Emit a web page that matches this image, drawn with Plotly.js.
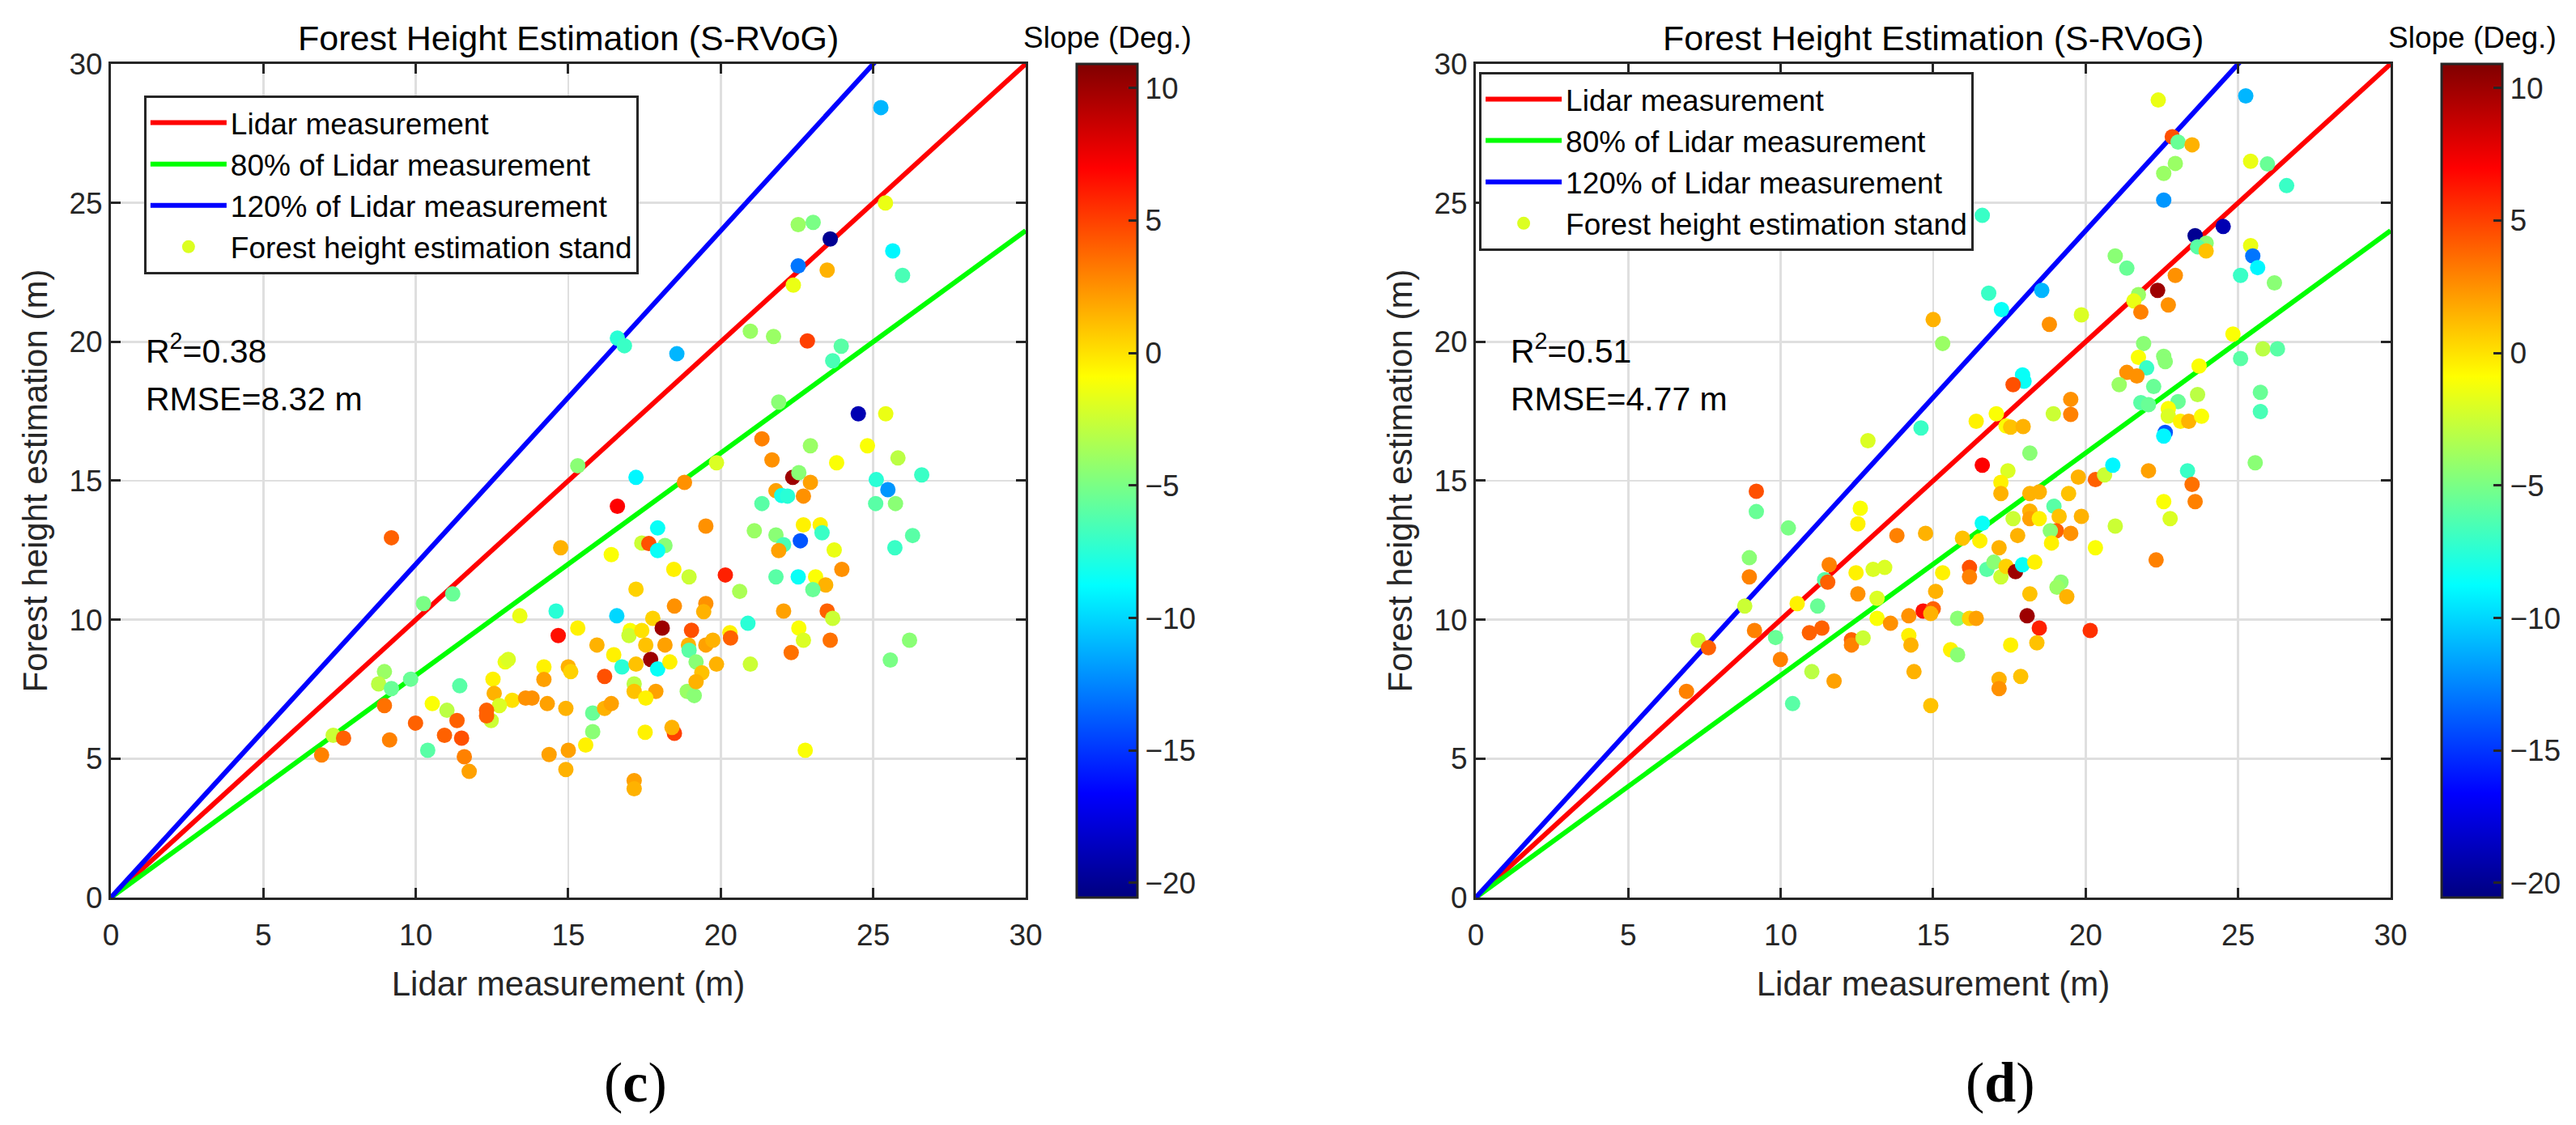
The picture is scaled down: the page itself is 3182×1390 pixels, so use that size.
<!DOCTYPE html>
<html>
<head>
<meta charset="utf-8">
<script src="https://cdn.plot.ly/plotly-3.0.1.min.js"></script>
<style>
  body { margin: 0; background: #fff; }
  #plot { width: 3182px; height: 1390px; }
</style>
</head>
<body>
<div id="plot"></div>
<script>
// panel (c): lidar height, estimated height, terrain slope per stand
var lidarC = [25.25, 25.4, 22.54, 23.03, 23.59, 22.54, 23.49, 22.38, 25.64, 25.96,
  20.97, 21.73, 22.84, 23.95, 23.67, 16.61, 16.84, 18.56, 21.9, 24.51,
  25.41, 21.35, 21.68, 22.94, 24.81, 23.8, 25.81, 19.86, 22.36, 22.56,
  22.94, 25.1, 25.48, 26.59, 17.22, 18.81, 15.31, 21.81, 21.35, 22.0,
  22.19, 22.71, 25.08, 25.73, 16.61, 19.51, 21.1, 21.81, 22.71, 23.26,
  23.32, 26.29, 22.06, 21.9, 22.61, 23.72, 25.71, 17.93, 17.41, 17.64,
  18.17, 17.93, 14.75, 16.41, 9.2, 18.46, 18.96, 20.15, 20.62, 21.81,
  22.54, 23.11, 23.44, 23.02, 23.97, 17.22, 10.25, 11.21, 13.41, 14.6,
  16.59, 18.48, 19.51, 19.44, 22.06, 23.49, 23.67, 20.89, 17.77, 18.08,
  19.04, 20.3, 20.32, 22.56, 22.71, 23.59, 26.19, 14.67, 15.31, 17.03,
  16.99, 17.41, 15.94, 17.54, 18.17, 18.94, 18.96, 19.51, 19.74, 22.31,
  16.49, 17.7, 17.93, 18.33, 16.76, 17.22, 19.19, 19.86, 20.97, 19.38,
  16.19, 15.0, 15.08, 14.2, 14.2, 12.93, 13.03, 12.53, 12.57, 8.97,
  8.78, 9.2, 9.83, 11.44, 17.16, 17.16, 17.87, 17.54, 18.9, 19.13,
  19.19, 13.16, 13.6, 13.81, 14.31, 12.74, 12.47, 12.32, 12.32, 10.54,
  11.02, 11.35, 8.97, 9.99, 14.92, 15.8, 16.19, 16.41, 15.8, 15.57,
  15.0, 14.37, 14.92, 17.52, 18.48, 18.4, 17.16, 17.16, 22.77, 25.56,
  7.29, 7.63, 6.91, 9.14, 10.39, 10.94, 11.5, 11.59, 11.75];
var estC = [28.43, 25.0, 24.22, 24.3, 23.7, 22.73, 22.58, 22.04, 23.27, 22.39,
  20.38, 20.19, 20.03, 19.84, 19.32, 20.13, 19.86, 19.57, 17.83, 17.41,
  17.41, 16.51, 15.75, 16.26, 16.26, 15.65, 15.82, 15.65, 15.12, 15.29,
  14.94, 15.04, 14.68, 15.21, 15.12, 14.94, 15.54, 14.64, 14.18, 14.47,
  14.45, 14.45, 14.18, 14.18, 14.08, 13.37, 13.2, 13.05, 13.41, 13.41,
  13.13, 13.03, 12.7, 12.49, 12.84, 12.51, 12.59, 13.3, 12.76, 12.74,
  12.67, 12.49, 12.59, 12.34, 12.95, 11.81, 11.54, 11.61, 11.02, 11.54,
  11.54, 11.54, 11.25, 11.08, 11.81, 11.1, 10.58, 10.93, 10.14, 10.31,
  10.14, 10.49, 10.58, 10.29, 10.31, 10.31, 10.05, 9.87, 10.05, 9.7,
  9.62, 9.53, 9.34, 9.7, 9.26, 9.26, 9.26, 9.43, 9.7, 9.61,
  9.43, 9.61, 9.09, 9.09, 9.09, 9.09, 8.9, 9.09, 9.26, 8.82,
  8.74, 8.57, 8.23, 8.48, 8.3, 8.4, 8.48, 8.4, 8.4, 8.09,
  7.96, 8.3, 8.13, 8.3, 7.85, 8.48, 8.57, 7.86, 7.35, 8.13,
  7.69, 7.52, 7.86, 7.62, 7.69, 7.42, 7.42, 7.18, 7.42, 7.27,
  7.77, 7.1, 7.18, 7.18, 6.98, 6.91, 6.37, 6.74, 6.54, 6.98,
  6.74, 6.37, 6.91, 6.28, 6.81, 6.64, 6.81, 6.98, 5.97, 5.49,
  5.3, 5.15, 4.61, 5.95, 5.91, 6.12, 4.21, 3.92, 5.3, 8.55,
  5.84, 5.74, 5.13, 5.67, 5.3, 5.84, 5.74, 5.07, 4.54];
var slopeC = [-11, -1.5, -4, -5, -20, -13, 1.5, -1.5, -9, -6.5,
  -4, -4, 5, -6, -6.5, -7.5, -7, -11, -4.5, -19,
  -1.5, 3, 2.5, -4, -1, -1, -3, -2, 10, -4.5,
  2, -7.5, -12, -7, -9, 2.5, -4.5, 2, -6, -8,
  -7.5, 2.5, -6, -4.5, 7, 2.5, -4, -4.5, -0.5, -0.5,
  -7, -6, -6.5, 2, -14, -1.5, -7, -8.5, -2.5, 4.5,
  -4.5, -8.5, 1.5, -1, 4, -0.5, -2.5, 6, -3.5, -6,
  -8.5, -1, 1.5, -5.5, 2.5, 0.5, -5, -5.5, -1.5, -7.5,
  -10, 2.5, 2.5, 1.5, 2, 4, -2.5, -7.5, 0.5, 10,
  4.5, -0.5, 4, -1, -2, 3.5, -4.5, 6.5, -0.5, -1,
  -2.5, 0, 1.5, 1, 2, 1.5, -6, 2, 1.5, 3.5,
  -0.5, 10, -8.5, -0.5, -7.5, 1, -4.5, 1.5, -2.5, 1,
  4.5, 1.5, 0.5, -0.5, 2, -1.5, -2, -0.5, 1.5, -4,
  -3, -5.5, -5.5, -6, -3, 1, 2, -0.5, -4, -4.5,
  1.5, 0, 2.5, 2.5, 2, -2, -2.5, 4, 4, -1,
  -3, 4, 3.5, 4, 1.5, -5.5, 1.5, 2, -4.5, -0.5,
  2, 2, 1.5, -0.5, 5, 1.5, 2, 1.5, -1, -5,
  -2.5, 4, 3, 3, -6, 4, 4.5, 3, 2];

// panel (d)
var lidarD = [22.38, 25.25, 22.84, 23.03, 23.49, 22.94, 22.56, 25.41, 25.96, 26.59,
  22.56, 16.61, 23.59, 24.51, 23.95, 23.67, 23.95, 25.41, 25.48, 25.64,
  25.08, 26.19, 20.97, 21.35, 22.94, 16.82, 17.24, 18.56, 22.36, 21.73,
  21.58, 22.71, 21.81, 19.86, 18.81, 15.0, 15.31, 21.9, 24.83, 25.08,
  25.81, 26.29, 22.56, 22.61, 21.73, 22.0, 21.35, 21.68, 23.72, 21.1,
  22.23, 23.67, 25.73, 25.73, 17.93, 17.98, 17.62, 19.51, 19.51, 18.94,
  21.81, 22.06, 23.03, 22.71, 22.71, 23.11, 23.38, 23.8, 22.61, 22.56,
  16.41, 17.07, 17.39, 17.54, 17.95, 12.86, 14.6, 18.17, 16.61, 17.45,
  17.22, 17.22, 18.17, 18.48, 19.44, 19.76, 20.32, 20.62, 20.89, 22.06,
  23.34, 23.49, 23.59, 22.56, 22.77, 25.56, 9.2, 9.2, 10.25, 12.61,
  12.53, 13.81, 14.75, 15.96, 16.61, 16.53, 17.16, 17.77, 17.62, 18.17,
  18.17, 18.48, 18.96, 19.13, 19.86, 19.04, 18.84, 19.51, 18.88, 20.97,
  20.32, 22.31, 8.97, 8.97, 11.59, 11.44, 11.54, 12.47, 13.03, 13.41,
  12.53, 13.16, 15.31, 15.08, 16.19, 16.19, 16.76, 16.99, 17.22, 17.39,
  17.7, 17.93, 18.33, 19.19, 19.06, 19.38, 18.17, 8.82, 10.54, 11.21,
  13.16, 13.6, 14.2, 14.67, 15.0, 14.92, 15.8, 16.19, 16.41, 18.08,
  18.48, 20.15, 18.4, 17.54, 9.14, 9.83, 10.94, 11.35, 12.32, 12.32,
  12.7, 14.2, 14.27, 15.57, 15.8, 7.29, 7.63, 9.99, 11.02, 11.75,
  14.37, 17.16, 17.16, 17.87, 6.91, 10.39, 14.92];
var estD = [28.7, 28.85, 27.38, 27.19, 27.09, 26.42, 26.06, 26.5, 26.4, 25.62,
  25.1, 24.55, 23.82, 24.15, 23.55, 23.42, 23.27, 23.46, 23.09, 22.67,
  22.39, 22.12, 23.09, 22.65, 22.39, 21.75, 21.16, 21.85, 21.85, 21.7,
  21.47, 21.33, 21.07, 20.97, 20.63, 20.8, 19.94, 19.94, 20.28, 19.4,
  19.75, 19.75, 19.48, 19.29, 19.44, 19.06, 18.9, 18.77, 19.13, 18.46,
  18.39, 18.1, 18.18, 17.49, 18.81, 18.58, 18.46, 17.93, 17.39, 17.41,
  17.81, 17.74, 17.85, 17.6, 17.33, 17.14, 17.14, 17.32, 16.74, 16.61,
  17.14, 17.41, 16.97, 16.93, 16.95, 16.44, 16.9, 16.0, 15.56, 15.36,
  14.94, 14.54, 14.54, 14.6, 14.54, 15.13, 15.04, 15.21, 15.56, 15.36,
  15.36, 14.87, 14.25, 14.25, 13.64, 15.65, 14.62, 13.89, 13.3, 14.01,
  13.45, 13.03, 13.11, 12.93, 13.47, 12.84, 12.59, 13.03, 13.64, 13.91,
  13.64, 13.64, 14.08, 13.72, 13.72, 13.2, 13.2, 13.11, 12.76, 13.37,
  12.59, 12.15, 12.23, 11.54, 11.98, 11.44, 11.35, 11.69, 11.81, 11.88,
  10.93, 10.77, 11.69, 11.02, 11.88, 11.54, 11.81, 12.07, 11.54, 11.92,
  11.73, 11.98, 12.07, 11.35, 11.17, 10.83, 10.93, 10.49, 10.58, 10.49,
  10.05, 9.87, 10.14, 10.31, 10.39, 10.22, 10.05, 10.05, 10.05, 10.14,
  9.7, 9.61, 9.17, 9.09, 9.61, 9.36, 9.53, 9.7, 9.28, 9.09,
  9.34, 9.43, 9.09, 8.92, 8.74, 9.26, 8.99, 8.57, 8.13, 7.79,
  8.13, 7.86, 7.52, 7.96, 7.42, 6.98, 6.91];
var slopeD = [-1.5, -11, 4.5, -5.5, 1.5, -4, -4, -1.5, -5.5, -7,
  -12, -7, -20, -19, -4.5, -6, 1, -1.5, -13, -9,
  -7, -4.5, -4.5, -5.5, 2.5, -7, -8.5, -11, 10, -4,
  -1.5, 2.5, 3, -2, 2.5, 1.5, -4, -4.5, -1, -6,
  -3, -6, -4.5, -4.5, -1, -7, 2.5, 2.5, -1, -4,
  -5.5, -3, -5.5, -6.5, -8.5, -8.5, 4.5, 2.5, 3, -2.5,
  -6, -5.5, -5.5, -1, -2, -0.5, 1.5, -1, -14, -9,
  -0.5, -1, -1, 1, 1.5, -2, -7, -4.5, 7, -2,
  -0.5, 1.5, 1.5, 1.5, 1, 1.5, 4, -2.5, -9, 2,
  -7, 3.5, 3, -1, -2, -4.5, 4.5, -5.5, -5, -1,
  -0.5, 3, 1.5, 1, -8.5, -0.5, 1.5, 1.5, -2.5, 1.5,
  2, -0.5, -6, 1, 1.5, 4, -4.5, 2.5, -0.5, -2.5,
  -1, 3, -4.5, 3, 3, -6, 4, -0.5, -2, -2,
  2.5, -2, -0.5, 1.5, 4.5, 3, -6, -4.5, -2.5, 0.5,
  10, -8.5, -0.5, -4.5, -4, 1.5, 1, -2.5, -0.5, -5.5,
  -1, 2.5, 2.5, 6.5, 4, 1.5, -4.5, 0.5, 2, 10,
  6, 5.5, 1, -0.5, 3, -5.5, 4, 4, 4, 3,
  -2.5, -0.5, 1.5, -0.5, -4.5, -2.5, 4, 3, -3, 2,
  1.5, 1.5, 2.5, 1, 3, -6, 1];

var statsC = ["R<sup>2</sup>=0.38", "RMSE=8.32 m"];
var statsD = ["R<sup>2</sup>=0.51", "RMSE=4.77 m"];

// reference lines: estimation = ratio * lidar
var lineLidar = [0, 30];
var ratios = [1, 0.8, 1.2];
var ratioNames = ["Lidar measurement", "80% of Lidar measurement", "120% of Lidar measurement"];

var slopeTicks = [-20, -15, -10, -5, 0, 5, 10];
var slopeMin = -20.55, slopeMax = 10.91;

var FONT = "Liberation Sans, Arial, Helvetica, sans-serif";
var DARK = "#262626";
var lineColors = ["#ff0000", "#00ff00", "#0000ff"];

// matlab jet
var jet = [
  [0, "rgb(0,0,128)"], [0.125, "rgb(0,0,255)"], [0.375, "rgb(0,255,255)"],
  [0.625, "rgb(255,255,0)"], [0.875, "rgb(255,0,0)"], [1, "rgb(128,0,0)"]
];

function panelTraces(lidar, est, slope, xa, ya, leg, cbX) {
  var out = [];
  ratios.forEach(function (r, i) {
    out.push({
      x: lineLidar,
      y: lineLidar.map(function (v) { return v * r; }),
      type: "scatter", mode: "lines",
      name: ratioNames[i],
      line: { color: lineColors[i], width: 6 },
      xaxis: xa, yaxis: ya, legend: leg
    });
  });
  out.push({
    x: lidar, y: est,
    type: "scatter", mode: "markers",
    showlegend: false,
    marker: {
      color: slope, colorscale: jet, cmin: slopeMin, cmax: slopeMax,
      size: 19, line: { width: 0 },
      showscale: true,
      colorbar: {
        x: cbX, xanchor: "left", xpad: 0,
        y: 0.57266, yanchor: "middle", ypad: 0,
        len: 1030, lenmode: "pixels",
        thickness: 75, thicknessmode: "pixels",
        outlinewidth: 3, outlinecolor: DARK,
        ticks: "inside", ticklen: 12, tickwidth: 3, tickcolor: DARK,
        tickvals: slopeTicks,
        tickfont: { family: FONT, size: 37, color: DARK }
      }
    },
    xaxis: xa, yaxis: ya
  });
  // legend entry for the stands
  out.push({
    x: [null], y: [null],
    type: "scatter", mode: "markers",
    name: "Forest height estimation stand",
    marker: { color: "#dcff21", size: 19 },
    xaxis: xa, yaxis: ya, legend: leg
  });
  return out;
}

var data = panelTraces(lidarC, estC, slopeC, "x", "y", "legend", 0.418)
  .concat(panelTraces(lidarD, estD, slopeD, "x2", "y2", "legend2", 0.9478));

function xAxis(domain, anchor) {
  return {
    domain: domain, anchor: anchor,
    range: [0, 30], dtick: 5, tick0: 0,
    showline: true, mirror: "ticks", linecolor: DARK, linewidth: 3,
    ticks: "inside", ticklen: 12, tickwidth: 3, tickcolor: DARK,
    ticklabelstandoff: 12,
    showgrid: true, gridcolor: "#dfdfdf", gridwidth: 2.5, zeroline: false,
    tickfont: { family: FONT, size: 37, color: DARK },
    title: { text: "Lidar measurement (m)", font: { family: FONT, size: 42, color: DARK }, standoff: 26 }
  };
}
function yAxis(anchor) {
  return {
    domain: [0.20216, 0.94317], anchor: anchor,
    range: [0, 30], dtick: 5, tick0: 0,
    showline: true, mirror: "ticks", linecolor: DARK, linewidth: 3,
    ticks: "inside", ticklen: 12, tickwidth: 3, tickcolor: DARK,
    showgrid: true, gridcolor: "#dfdfdf", gridwidth: 2.5, zeroline: false,
    tickfont: { family: FONT, size: 37, color: DARK },
    title: { text: "Forest height estimation (m)", font: { family: FONT, size: 42, color: DARK }, standoff: 14 }
  };
}

function legendBox(x, y) {
  return {
    x: x, y: y, xanchor: "left", yanchor: "top",
    bgcolor: "#ffffff", bordercolor: DARK, borderwidth: 3,
    font: { family: FONT, size: 37, color: "#000" },
    itemwidth: 94
  };
}

var annotations = [];
[[statsC, "x", "y"], [statsD, "x2", "y2"]].forEach(function (p) {
  annotations.push({ xref: p[1], yref: p[2], x: 1.1, y: 19.75, text: p[0][0], showarrow: false,
    xanchor: "left", yanchor: "middle", font: { family: FONT, size: 41, color: "#000" } });
  annotations.push({ xref: p[1], yref: p[2], x: 1.1, y: 17.94, text: p[0][1], showarrow: false,
    xanchor: "left", yanchor: "middle", font: { family: FONT, size: 41, color: "#000" } });
});
[0.2206, 0.7505].forEach(function (cx) {
  annotations.push({ xref: "paper", yref: "paper", x: cx, y: 0.9665, text: "Forest Height Estimation (S-RVoG)",
    showarrow: false, xanchor: "center", yanchor: "middle", font: { family: FONT, size: 43, color: "#000" } });
});
[0.4299, 0.9598].forEach(function (cx) {
  annotations.push({ xref: "paper", yref: "paper", x: cx, y: 0.9665, text: "Slope (Deg.)",
    showarrow: false, xanchor: "center", yanchor: "middle", font: { family: FONT, size: 37, color: "#000" } });
});
[["(<b>c</b>)", 0.2467], ["(<b>d</b>)", 0.7766]].forEach(function (p) {
  annotations.push({ xref: "paper", yref: "paper", x: p[1], y: 0.0381, text: p[0],
    showarrow: false, xanchor: "center", yanchor: "middle",
    font: { family: "Liberation Serif, Times New Roman, serif", size: 70, color: "#000" } });
});

var layout = {
  width: 3182, height: 1390,
  margin: { l: 0, r: 0, t: 0, b: 0 },
  paper_bgcolor: "#ffffff", plot_bgcolor: "#ffffff",
  font: { family: FONT, color: DARK },
  xaxis: xAxis([0.04305, 0.39818], "y"),
  yaxis: yAxis("x"),
  xaxis2: xAxis([0.5729, 0.92803], "y2"),
  yaxis2: yAxis("x2"),
  legend: legendBox(0.0559, 0.9151),
  legend2: legendBox(0.5742, 0.9360),
  annotations: annotations
};

Plotly.newPlot("plot", data, layout, { displayModeBar: false, staticPlot: true });
</script>
</body>
</html>
